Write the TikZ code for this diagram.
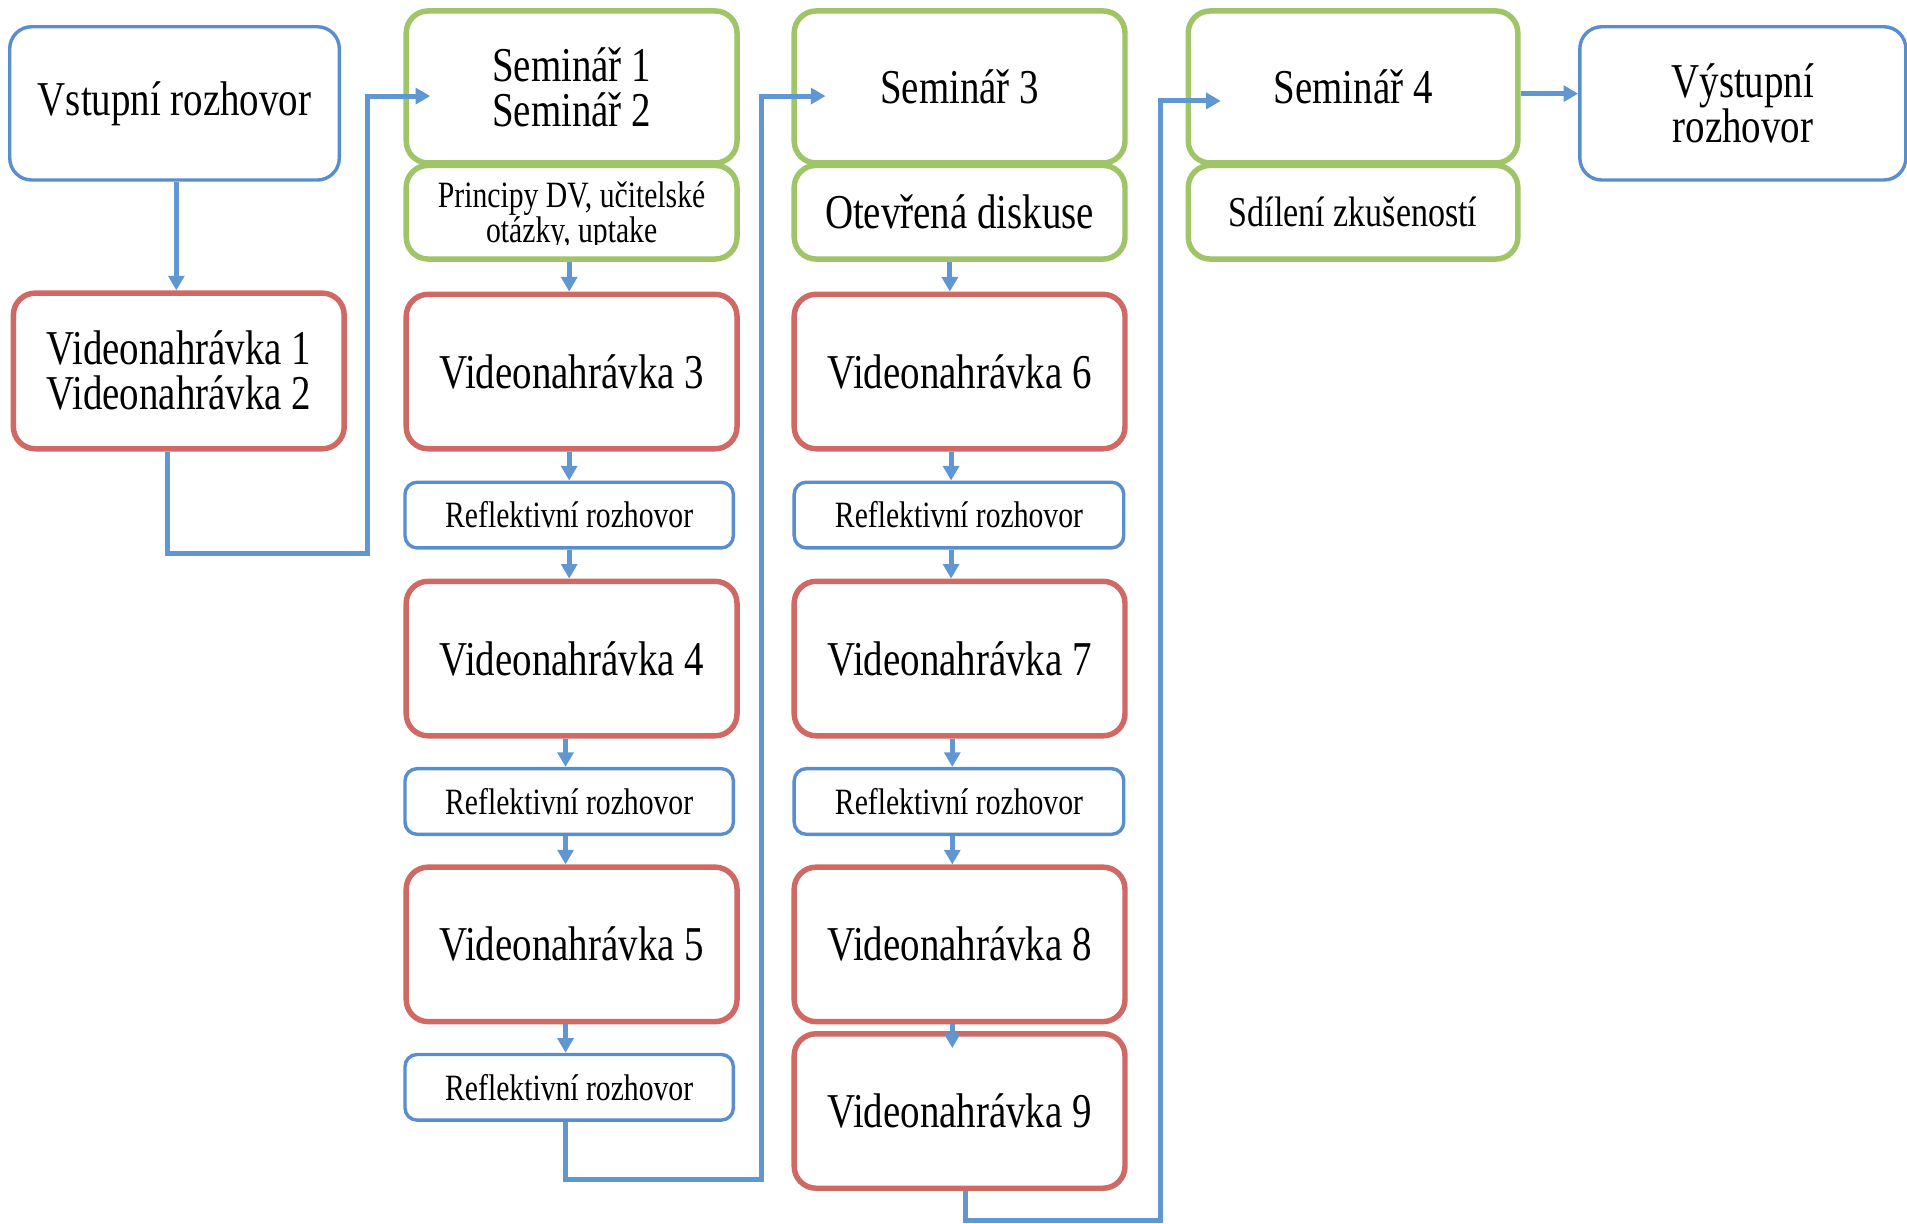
\documentclass[tikz,border=0pt]{standalone}
\usepackage{fontspec}
\setmainfont{Liberation Serif}[FakeStretch=0.8]
\usetikzlibrary{arrows.meta}
\definecolor{bred}{RGB}{208,104,100}
\definecolor{bgreen}{RGB}{160,196,104}
\definecolor{bblue}{RGB}{88,142,206}
\definecolor{lblue}{RGB}{96,150,210}
\newcommand{\bigf}{\fontsize{40}{37}\selectfont}
\newcommand{\midf}{\fontsize{35}{33}\selectfont}
\newcommand{\smallf}{\fontsize{30.5}{27}\selectfont}
\begin{document}
\begin{tikzpicture}[x=1pt,y=-1pt,
  base/.style={draw, fill=white, rounded corners=18pt, align=center, inner sep=0pt, text=black},
  redbox/.style={base, draw=bred, line width=4.5pt, minimum width=272pt, minimum height=127pt, font=\bigf},
  greenbox/.style={base, draw=bgreen, line width=4.5pt, minimum width=272pt},
  bluebox/.style={base, draw=bblue, line width=2.8pt},
  reflbox/.style={bluebox, rounded corners=10pt, minimum width=270pt, minimum height=54pt, font=\smallf},
  conn/.style={draw=lblue, line width=4.2pt, -{Triangle[length=12pt,width=13pt]}},
]
\useasboundingbox (0,0) rectangle (1568,1006);

% column 0
\node[bluebox, minimum width=271pt, minimum height=126pt, font=\bigf] (vst) at (143.5,85) {Vstupní rozhovor};
\node[redbox, minimum height=128pt] (v12) at (147,305) {Videonahrávka 1\\Videonahrávka 2};

% column 1
\node[greenbox, minimum height=125pt, font=\bigf] (s12) at (470,71.5) {Seminář 1\\Seminář 2};
\node[greenbox, minimum height=77pt] (pr) at (470,174.5) {};
\begin{scope}
  \clip (340,140) rectangle (600,201);
  \node[font=\smallf, align=center, inner sep=0pt] (prt) at (470,178) {Principy DV, učitelské\\otázky, uptake};
\end{scope}
\node[redbox] (v3) at (470,305.5) {Videonahrávka 3};
\node[reflbox] (r3) at (468,423.5) {Reflektivní rozhovor};
\node[redbox] (v4) at (470,541.5) {Videonahrávka 4};
\node[reflbox] (r4) at (468,659) {Reflektivní rozhovor};
\node[redbox] (v5) at (470,776.5) {Videonahrávka 5};
\node[reflbox] (r5) at (468,894) {Reflektivní rozhovor};

% column 2
\node[greenbox, minimum height=125pt, font=\bigf] (s3) at (789,71.5) {Seminář 3};
\node[greenbox, minimum height=77pt, font=\bigf] (od) at (789,174.5) {Otevřená diskuse};
\node[redbox] (v6) at (789,305.5) {Videonahrávka 6};
\node[reflbox, minimum width=271pt] (r6) at (788.5,423.5) {Reflektivní rozhovor};
\node[redbox] (v7) at (789,541.5) {Videonahrávka 7};
\node[reflbox, minimum width=271pt] (r7) at (788.5,659) {Reflektivní rozhovor};
\node[redbox] (v8) at (789,776.5) {Videonahrávka 8};
\node[redbox] (v9) at (789,913.5) {Videonahrávka 9};

% column 3
\node[greenbox, minimum width=271pt, minimum height=125pt, font=\bigf] (s4) at (1112.5,71.5) {Seminář 4};
\node[greenbox, minimum width=271pt, minimum height=77pt, font=\midf] (sd) at (1112.5,174.5) {Sdílení zkušeností};

% column 4
\node[bluebox, minimum width=268pt, minimum height=126pt, font=\bigf] (vys) at (1433,85) {Výstupní\\rozhovor};

% connectors
\draw[conn] ([xshift=1.5pt]vst.south) -- ([xshift=-2pt]v12.north);
\draw[conn] ([xshift=-2pt]pr.south) -- ([xshift=-2pt]v3.north);
\draw[conn] ([xshift=-2pt]v3.south) -- ([xshift=0pt]r3.north);
\draw[conn] ([xshift=0pt]r3.south) -- ([xshift=-2pt]v4.north);
\draw[conn] ([xshift=-5pt]v4.south) -- ([xshift=-3pt]r4.north);
\draw[conn] ([xshift=-3pt]r4.south) -- ([xshift=-5pt]v5.north);
\draw[conn] ([xshift=-5pt]v5.south) -- ([xshift=-3pt]r5.north);

\draw[conn] ([xshift=-8pt]od.south) -- ([xshift=-8pt]v6.north);
\draw[conn] ([xshift=-7pt]v6.south) -- ([xshift=-6.5pt]r6.north);
\draw[conn] ([xshift=-6.5pt]r6.south) -- ([xshift=-7pt]v7.north);
\draw[conn] ([xshift=-6pt]v7.south) -- ([xshift=-5.5pt]r7.north);
\draw[conn] ([xshift=-5.5pt]r7.south) -- ([xshift=-6pt]v8.north);
\draw[conn] ([xshift=-6pt]v8.south) -- ([xshift=-6pt,yshift=-14pt]v9.north);

\coordinate (e1) at (302,455);
\draw[conn] ([xshift=-9pt]v12.south) |- (e1) |- ([xshift=22pt,yshift=-7.5pt]s12.west);
\coordinate (e2) at (626,970);
\draw[conn] ([xshift=-3pt]r5.south) |- (e2) |- ([xshift=28pt,yshift=-7.5pt]s3.west);
\coordinate (e3) at (954,1003.5);
\draw[conn] ([xshift=5pt]v9.south) |- (e3) |- ([xshift=29pt,yshift=-11.5pt]s4.west);
\draw[conn] ([yshift=-5.5pt]s4.east) -- ([yshift=8pt]vys.west);
\end{tikzpicture}
\end{document}
